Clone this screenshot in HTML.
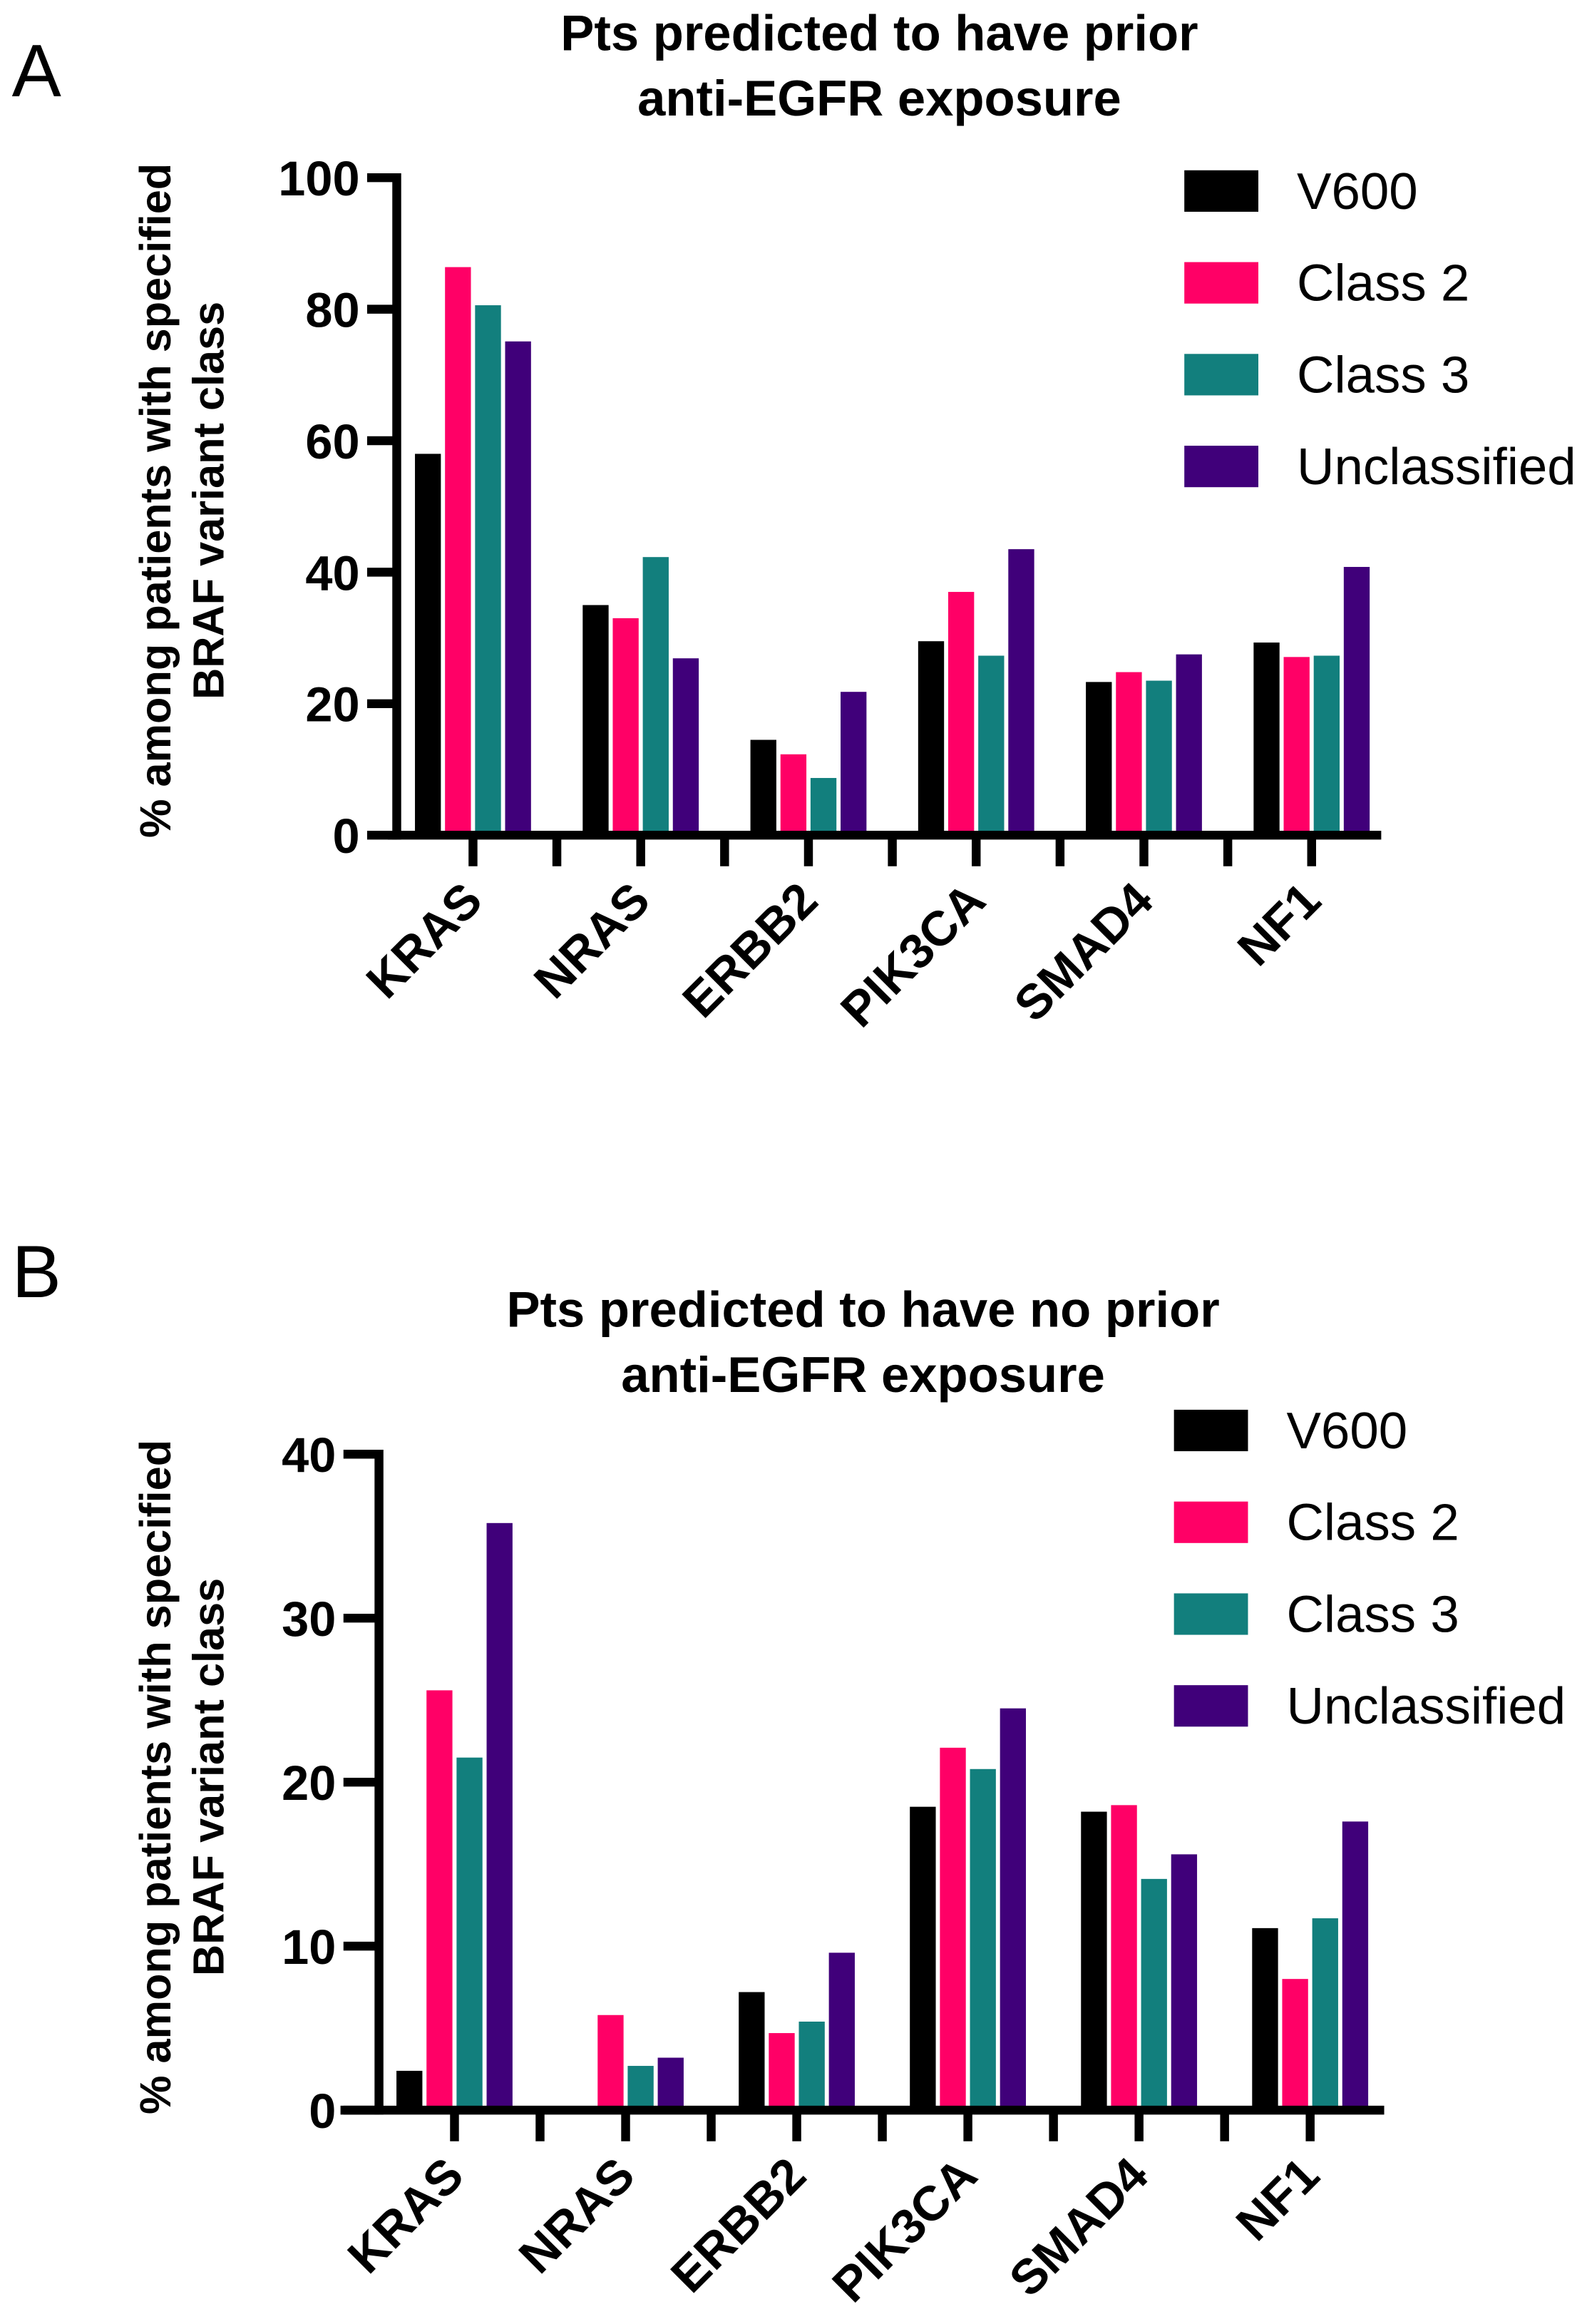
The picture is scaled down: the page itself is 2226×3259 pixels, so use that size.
<!DOCTYPE html>
<html><head><meta charset="utf-8"><style>
html,body{margin:0;padding:0;background:#fff}
svg{display:block}
text{font-family:"Liberation Sans",Arial,sans-serif}
</style></head><body>
<svg id="fig" width="2226" height="3259" viewBox="0 0 1072 1569.4" preserveAspectRatio="none" xmlns="http://www.w3.org/2000/svg">
<text x="8" y="65" font-size="50">A</text>
<text x="594" y="34" font-size="34" font-weight="bold" text-anchor="middle">Pts predicted to have prior</text>
<text x="594" y="78" font-size="34" font-weight="bold" text-anchor="middle">anti-EGFR exposure</text>
<text x="8" y="876" font-size="50">B</text>
<text x="583" y="896" font-size="34" font-weight="bold" text-anchor="middle">Pts predicted to have no prior</text>
<text x="583" y="940" font-size="34" font-weight="bold" text-anchor="middle">anti-EGFR exposure</text>
<g id="chartA"></g>
<g id="chartB"></g>
</svg>
<script>
const categories = ["KRAS","NRAS","ERBB2","PIK3CA","SMAD4","NF1"];
const seriesNames = ["V600","Class 2","Class 3","Unclassified"];
const seriesColors = ["#000000","#ff0066","#127f7d","#40007a"];
const aV600 = [58, 35, 14.5, 29.5, 23.3, 29.3];
const aClass2 = [86.4, 33, 12.3, 37, 24.8, 27.1];
const aClass3 = [80.6, 42.3, 8.7, 27.3, 23.5, 27.3];
const aUnclass = [75.1, 26.9, 21.8, 43.5, 27.5, 40.8];
const aTicks = [0, 20, 40, 60, 80, 100];
const bV600 = [2.4, 0, 7.2, 18.5, 18.2, 11.1];
const bClass2 = [25.6, 5.8, 4.7, 22.1, 18.6, 8.0];
const bClass3 = [21.5, 2.7, 5.4, 20.8, 14.1, 11.7];
const bUnclass = [35.8, 3.2, 9.6, 24.5, 15.6, 17.6];
const bTicks = [0, 10, 20, 30, 40];

const NS = "http://www.w3.org/2000/svg";
function mk(parent, tag, attrs, txt){
  const e = document.createElementNS(NS, tag);
  for (const k in attrs) e.setAttribute(k, attrs[k]);
  if (txt !== undefined) e.textContent = txt;
  parent.appendChild(e);
  return e;
}
function drawChart(g, pfx, series, ticks, cfg){
  const ymax = ticks[ticks.length-1];
  const y = v => cfg.y0 - (v / ymax) * (cfg.y0 - cfg.yTop);
  const xc = i => cfg.x0 + i * cfg.step;
  const bw = 17.5, pitch = 20.3;
  series.forEach((vals, s) => {
    vals.forEach((v, i) => {
      const bx = xc(i) - 2 * pitch + 1.4 + s * pitch;
      const r = mk(g, "rect", {x: bx, y: y(v), width: bw, height: cfg.y0 - y(v), fill: seriesColors[s]});
      
      
    });
  });
  const ya = mk(g, "line", {x1: cfg.ax, y1: cfg.yTop - 3, x2: cfg.ax, y2: cfg.y0 + 3, stroke: "#000", "stroke-width": 6});
  
  
  ticks.forEach(t => {
    const tk = mk(g, "line", {x1: cfg.ax - cfg.tickLen, y1: y(t), x2: cfg.ax, y2: y(t), stroke: "#000", "stroke-width": 6});
    
    
    const tl = mk(g, "text", {x: cfg.ax - cfg.tickLen - 5, y: y(t) + 12, "font-size": 33, "font-weight": "bold", "text-anchor": "end"}, String(t));
    
    
  });
  const xa = mk(g, "line", {x1: cfg.xStart, y1: cfg.y0, x2: cfg.xEnd, y2: cfg.y0, stroke: "#000", "stroke-width": 6});
  
  
  for (let i = 0; i < categories.length; i++){
    const t1 = mk(g, "line", {x1: xc(i), y1: cfg.y0, x2: xc(i), y2: cfg.y0 + 21, stroke: "#000", "stroke-width": 6});
    
    
    if (i < categories.length - 1){
      const t2 = mk(g, "line", {x1: xc(i) + cfg.step/2, y1: cfg.y0, x2: xc(i) + cfg.step/2, y2: cfg.y0 + 21, stroke: "#000", "stroke-width": 6});
      
      
    }
    const lx = xc(i) + 8, ly = cfg.y0 + 46;
    const cl = mk(g, "text", {x: lx, y: ly, "font-size": 33, "font-weight": "bold", "text-anchor": "end", transform: "rotate(-45 " + lx + " " + ly + ")"}, categories[i]);
    
    
  }
  const cy = cfg.titleY;
  const yt1 = mk(g, "text", {x: 115, y: cy, "font-size": 29.5, "font-weight": "bold", "text-anchor": "middle", transform: "rotate(-90 115 " + cy + ")"}, "% among patients with specified");
  
  
  const yt2 = mk(g, "text", {x: 151, y: cy, "font-size": 29.5, "font-weight": "bold", "text-anchor": "middle", transform: "rotate(-90 151 " + cy + ")"}, "BRAF variant class");
  
  
  seriesNames.forEach((n, s) => {
    const ly = cfg.legY + s * 62;
    const sw = mk(g, "rect", {x: cfg.legX, y: ly - 14, width: 50, height: 28, fill: seriesColors[s]});
    
    
    const lt = mk(g, "text", {x: cfg.legX + 76, y: ly + 12, "font-size": 35}, n);
    
    
  });
}
drawChart(document.getElementById("chartA"), "a", [aV600, aClass2, aClass3, aUnclass], aTicks,
  {x0: 319.5, step: 113.3, y0: 564, yTop: 120, ax: 268, tickLen: 20, xStart: 262, xEnd: 933, titleY: 338, legX: 800, legY: 129});
drawChart(document.getElementById("chartB"), "b", [bV600, bClass2, bClass3, bUnclass], bTicks,
  {x0: 307, step: 115.6, y0: 1425, yTop: 982, ax: 256, tickLen: 24, xStart: 230, xEnd: 935, titleY: 1200, legX: 793, legY: 966});
</script>
</body></html>
